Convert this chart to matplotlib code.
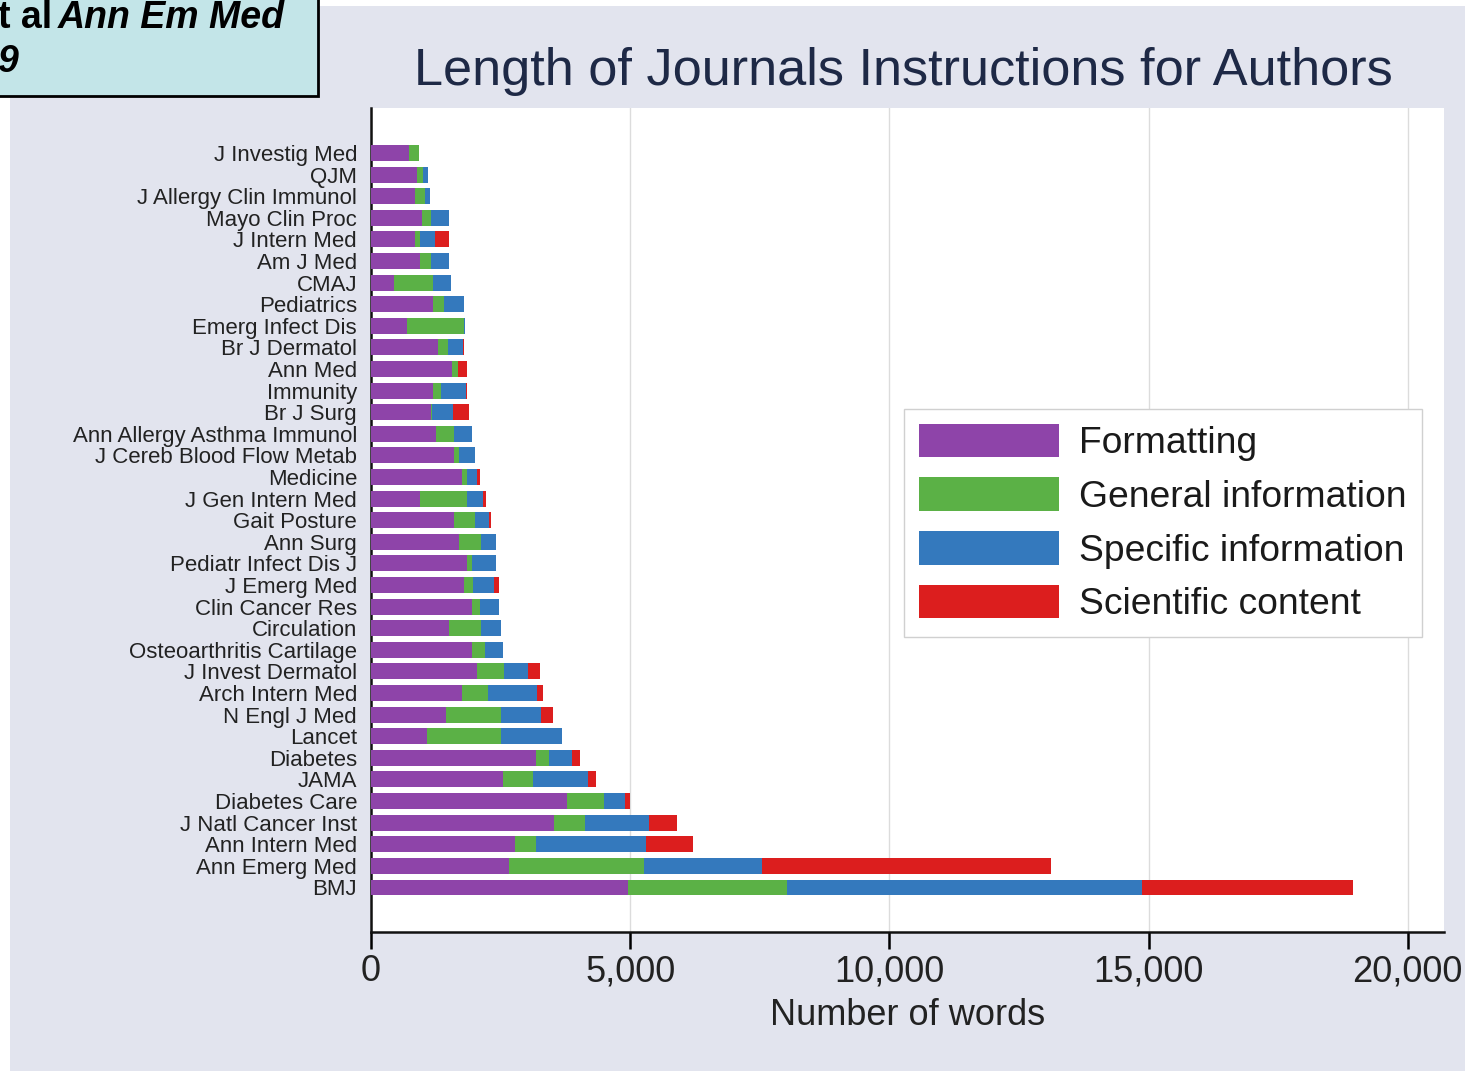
import matplotlib
matplotlib.use("Agg")
import matplotlib.pyplot as plt
from matplotlib.patches import Rectangle, Patch
import numpy as np

# journals, top to bottom
journals = ["J Investig Med", "QJM", "J Allergy Clin Immunol", "Mayo Clin Proc",
            "J Intern Med", "Am J Med", "CMAJ", "Pediatrics", "Emerg Infect Dis",
            "Br J Dermatol", "Ann Med", "Immunity", "Br J Surg",
            "Ann Allergy Asthma Immunol", "J Cereb Blood Flow Metab", "Medicine",
            "J Gen Intern Med", "Gait Posture", "Ann Surg", "Pediatr Infect Dis J",
            "J Emerg Med", "Clin Cancer Res", "Circulation", "Osteoarthritis Cartilage",
            "J Invest Dermatol", "Arch Intern Med", "N Engl J Med", "Lancet",
            "Diabetes", "JAMA", "Diabetes Care", "J Natl Cancer Inst",
            "Ann Intern Med", "Ann Emerg Med", "BMJ"]

formatting = [740, 880, 840, 990, 850, 945, 445, 1190, 690, 1300, 1560, 1190, 1150,
              1255, 1610, 1750, 945, 1610, 1705, 1860, 1795, 1945, 1505, 1955,
              2050, 1750, 1450, 1075, 3180, 2555, 3790, 3530, 2770, 2670, 4950]
general = [190, 120, 200, 160, 95, 205, 760, 220, 1100, 190, 115, 160, 20,
           355, 95, 110, 915, 400, 410, 95, 170, 160, 610, 245,
           515, 515, 1060, 1435, 245, 565, 710, 600, 410, 2590, 3080]
specific = [0, 95, 100, 350, 290, 350, 340, 390, 20, 280, 0, 480, 420,
            345, 300, 190, 310, 275, 295, 460, 400, 355, 395, 355,
            455, 935, 765, 1170, 460, 1075, 405, 1225, 2125, 2290, 6850]
scientific = [0, 0, 0, 0, 265, 0, 0, 0, 0, 30, 185, 20, 310,
              0, 0, 50, 40, 25, 0, 0, 95, 0, 0, 0,
              240, 115, 245, 0, 150, 150, 95, 545, 905, 5560, 4070]

series = [formatting, general, specific, scientific]
names = ["Formatting", "General information", "Specific information", "Scientific content"]
colors = ["#8e44a9", "#5bb146", "#3479bd", "#dc1e1e"]

plt.rcParams['font.family'] = ['Liberation Sans', 'DejaVu Sans']

W, H = 1465, 1071
fig = plt.figure(figsize=(W / 100, H / 100), dpi=100, facecolor="white")

# lavender panel behind the chart
fig.patches.append(Rectangle((10 / W, 0), 1, 1 - 6 / H, transform=fig.transFigure,
                             fc="#e2e4ee", ec="none", zorder=-1))

ax = fig.add_axes([371 / W, 1 - 932 / H, (1444 - 371) / W, (932 - 108) / H])
ax.set_zorder(1)
ax.set_facecolor("white")

y = np.arange(len(journals))
left = np.zeros(len(journals))
for vals, c in zip(series, colors):
    ax.barh(y, vals, left=left, height=0.74, color=c, edgecolor="none", zorder=3)
    left = left + np.array(vals)

ax.set_ylim(36.06, -2.08)
ax.set_xlim(0, 20700)
ax.set_yticks(y)
ax.set_yticklabels(journals, fontsize=16, color="#222222")
ax.tick_params(axis="y", length=0, pad=10)
ax.set_xticks([0, 5000, 10000, 15000, 20000])
ax.set_xticklabels(["0", "5,000", "10,000", "15,000", "20,000"], fontsize=26, color="#222222")
ax.tick_params(axis="x", length=12, width=1.8, pad=4, direction="out")
ax.grid(axis="x", color="#dcdcdc", lw=1, zorder=0)
ax.set_xlabel("Number of words", fontsize=26, color="#222222", labelpad=6)

for s in ["top", "right"]:
    ax.spines[s].set_visible(False)
for s in ["left", "bottom"]:
    ax.spines[s].set_linewidth(1.8)
    ax.spines[s].set_color("#111111")

fig.text(903 / W, 1 - 71 / H, "Length of Journals Instructions for Authors",
         fontsize=37.6, color="#1e2946", ha="center", va="center")

handles = [Patch(fc=c, ec="none") for c in colors]
leg = ax.legend(handles, names, loc="upper left", bbox_to_anchor=(0.497, 0.635),
                fontsize=26.8, handlelength=3.75, handleheight=1.0, handletextpad=0.55,
                labelspacing=0.44, borderpad=0.4, borderaxespad=0, fancybox=False,
                framealpha=1, edgecolor="#d0d0d0")
leg.get_frame().set_linewidth(1)
for t in leg.get_texts():
    t.set_color("#1a1a1a")

# citation box in the top left corner (cut off in the original)
fig.patches.append(Rectangle((-5 / W, 1 - 96 / H), 323 / W, 100 / H,
                             transform=fig.transFigure, fc="#c3e5e8", ec="black",
                             lw=2, zorder=5))
fig.text(-2 / W, 1 - 18 / H, "t al", fontsize=27, fontweight="bold",
         ha="left", va="center", zorder=6)
fig.text(58 / W, 1 - 18 / H, "Ann Em Med", fontsize=27, fontweight="bold",
         style="italic", ha="left", va="center", zorder=6)
fig.text(-3 / W, 1 - 62 / H, "9", fontsize=27, fontweight="bold",
         style="italic", ha="left", va="center", zorder=6)

fig.savefig("out.png", dpi=100, facecolor=fig.get_facecolor())
